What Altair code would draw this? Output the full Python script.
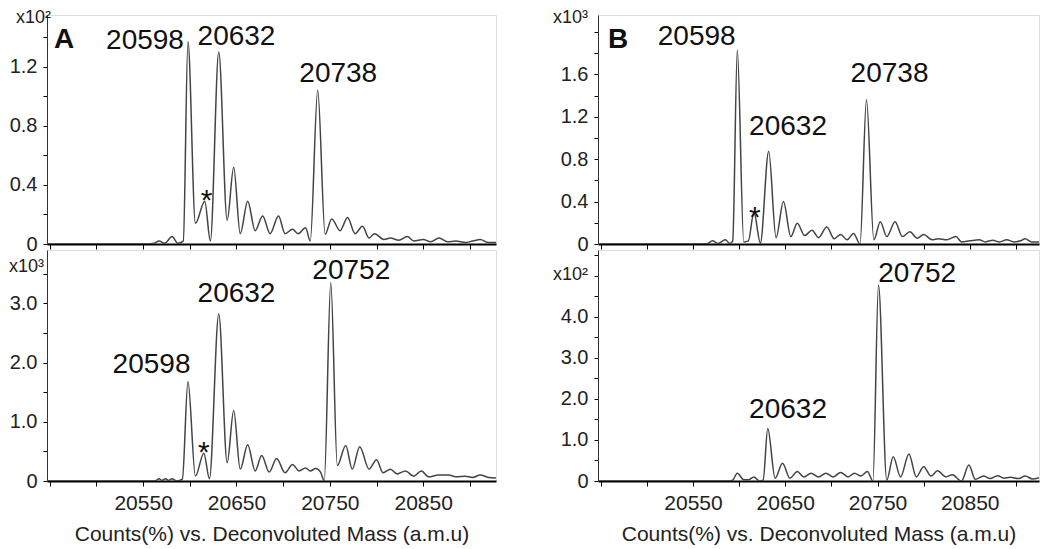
import altair as alt
import pandas as pd

FONT = "Liberation Sans"

# ---------------- data ----------------
mass_a_top = [20447, 20555, 20562, 20567, 20573, 20581, 20587, 20593, 20598, 20606, 20616, 20622,
              20631, 20640, 20647, 20654, 20662, 20670, 20678, 20686, 20695, 20702, 20710, 20716,
              20724, 20729, 20737, 20745, 20752, 20761, 20769, 20777, 20785, 20792, 20798, 20808,
              20815, 20824, 20833, 20840, 20850, 20858, 20867, 20876, 20885, 20895, 20903, 20911,
              20920, 20928]
cnt_a_top = [0, 0, 0.005, 0.02, 0.005, 0.05, 0.005, 0.02, 1.37, 0.14, 0.29, 0.02,
             1.30, 0.16, 0.52, 0.07, 0.29, 0.09, 0.19, 0.07, 0.19, 0.07, 0.10, 0.07,
             0.11, 0.02, 1.04, 0.066, 0.17, 0.09, 0.18, 0.07, 0.12, 0.04, 0.07, 0.03,
             0.04, 0.025, 0.05, 0.02, 0.03, 0.015, 0.04, 0.015, 0.02, 0.01, 0.02, 0.03,
             0.01, 0.01]

mass_a_bot = [20447, 20560, 20564, 20567, 20570, 20574, 20577, 20581, 20586, 20592, 20598, 20606,
              20615, 20621, 20631, 20640, 20647, 20654, 20662, 20670, 20677, 20685, 20693, 20702,
              20710, 20717, 20724, 20729, 20735, 20740, 20744, 20751, 20758, 20767, 20774, 20782,
              20792, 20800, 20807, 20815, 20822, 20831, 20840, 20848, 20856, 20866, 20877, 20886,
              20895, 20903, 20911, 20920, 20928]
cnt_a_bot = [0, 0, 0.01, 0.04, 0.01, 0.04, 0.01, 0.04, 0.0, 0.03, 1.68, 0.085,
             0.47, 0.04, 2.82, 0.31, 1.19, 0.2, 0.61, 0.17, 0.43, 0.15, 0.38, 0.14,
             0.28, 0.17, 0.22, 0.17, 0.21, 0.15, 0.0, 3.35, 0.26, 0.6, 0.2, 0.58,
             0.2, 0.36, 0.14, 0.2, 0.12, 0.17, 0.08, 0.17, 0.07, 0.1, 0.1, 0.07,
             0.08, 0.06, 0.1, 0.06, 0.05]

mass_b_top = [20447, 20560, 20566, 20571, 20577, 20585, 20590, 20593, 20598, 20605, 20610, 20616,
              20623, 20632, 20640, 20648, 20656, 20663, 20671, 20679, 20686, 20695, 20703, 20710,
              20717, 20724, 20731, 20738, 20746, 20753, 20760, 20769, 20777, 20785, 20793, 20800,
              20809, 20816, 20825, 20835, 20841, 20850, 20860, 20867, 20875, 20882, 20890, 20898,
              20905, 20910, 20917, 20925]
cnt_b_top = [0, 0, 0.005, 0.03, 0.005, 0.04, 0.005, 0.03, 1.83, 0.02, 0.03, 0.30,
             0.01, 0.875, 0.06, 0.40, 0.07, 0.195, 0.08, 0.13, 0.06, 0.16, 0.05, 0.09,
             0.04, 0.10, 0.0, 1.36, 0.04, 0.21, 0.07, 0.21, 0.07, 0.115, 0.055, 0.09,
             0.04, 0.05, 0.04, 0.07, 0.02, 0.03, 0.04, 0.02, 0.035, 0.02, 0.04, 0.02,
             0.03, 0.05, 0.02, 0.02]

mass_b_bot = [20447, 20590, 20593, 20598, 20605, 20610, 20616, 20622, 20626, 20631, 20639, 20647,
              20655, 20663, 20670, 20678, 20686, 20694, 20702, 20710, 20718, 20725, 20732, 20739,
              20745, 20751, 20760, 20767, 20775, 20784, 20792, 20800, 20808, 20815, 20824, 20831,
              20841, 20849, 20856, 20865, 20872, 20880, 20887, 20894, 20903, 20910, 20918, 20925]
cnt_b_bot = [0, 0, 0.02, 0.19, 0.03, 0.03, 0.1, 0.0, 0.02, 1.28, 0.07, 0.43,
             0.07, 0.23, 0.1, 0.19, 0.1, 0.19, 0.1, 0.21, 0.1, 0.19, 0.12, 0.23,
             0.0, 4.77, 0.02, 0.59, 0.1, 0.66, 0.1, 0.35, 0.12, 0.25, 0.1, 0.15,
             0.0, 0.39, 0.04, 0.12, 0.06, 0.13, 0.07, 0.09, 0.06, 0.12, 0.05, 0.08]

# peak annotations: text, mass position, height position
lab_a_top_text = ["20598", "20632", "20738"]
lab_a_top_mass = [20552, 20650, 20759]
lab_a_top_cnt = [1.32, 1.345, 1.095]

lab_a_bot_text = ["20598", "20632", "20752"]
lab_a_bot_mass = [20559, 20650, 20773]
lab_a_bot_cnt = [1.83, 3.03, 3.41]

lab_b_top_text = ["20598", "20632", "20738"]
lab_b_top_mass = [20554, 20653, 20763]
lab_b_top_cnt = [1.877, 1.03, 1.53]

lab_b_bot_text = ["20632", "20752"]
lab_b_bot_mass = [20653, 20793]
lab_b_bot_cnt = [1.54, 4.85]

# asterisk positions (mass, height)
star_a_top = [20618, 0.23]
star_a_bot = [20615, 0.32]
star_b_top = [20617, 0.16]

x_ticks = [20450, 20500, 20550, 20600, 20650, 20700, 20750, 20800, 20850, 20900]
y_ticks_a_top = [0, 0.2, 0.4, 0.6, 0.8, 1.0, 1.2, 1.4]
y_ticks_a_bot = [0, 0.5, 1.0, 1.5, 2.0, 2.5, 3.0, 3.5]
y_ticks_b_top = [0, 0.2, 0.4, 0.6, 0.8, 1.0, 1.2, 1.4, 1.6, 1.8, 2.0]
y_ticks_b_bot = [0, 0.5, 1.0, 1.5, 2.0, 2.5, 3.0, 3.5, 4.0, 4.5, 5.0, 5.5]

X_TITLE = "Counts(%) vs. Deconvoluted Mass (a.m.u)"
X_LABEL_EXPR = "datum.value >= 20550 && (datum.value - 20550) % 100 == 0 ? format(datum.value, 'd') : ''"


def ylab_expr(step, maxlab):
    return ("datum.value == 0 ? '0' : ((abs(datum.value / %s - round(datum.value / %s)) < 0.001 "
            "&& datum.value <= %s) ? format(datum.value, '.1f') : '')" % (step, step, maxlab))


def panel(mass, cnt, xdom, ymax, yticks, ystep, ymaxlab, w, h,
          lab_text, lab_mass, lab_cnt, star, letter, letter_x,
          mult, mult_x, mult_y, bottom):
    df = pd.DataFrame({"mass": mass, "counts": cnt})
    if bottom:
        xaxis = alt.Axis(values=x_ticks, labelExpr=X_LABEL_EXPR, labelFont=FONT,
                         labelFontSize=21, labelColor="#222", labelPadding=6,
                         labelOverlap=False, labelFlush=False,
                         tickSize=5, tickColor="black", tickWidth=1,
                         domainColor="black", domainWidth=2, grid=False,
                         title=X_TITLE, titleFont=FONT, titleFontSize=21,
                         titleFontWeight="normal", titleColor="#222", titlePadding=10)
    else:
        xaxis = alt.Axis(values=x_ticks, labels=False, tickSize=5, tickColor="black",
                         tickWidth=1, domainColor="black", domainWidth=2, grid=False,
                         title=None)
    yaxis = alt.Axis(values=yticks, labelExpr=ylab_expr(ystep, ymaxlab), labelFont=FONT,
                     labelFontSize=20, labelColor="#222", labelPadding=6,
                     labelOverlap=False, labelFlush=False,
                     tickSize=4, tickColor="black", domainColor="#333", domainWidth=1,
                     grid=False, title=None)
    xenc = alt.X("mass:Q", scale=alt.Scale(domain=xdom, nice=False, zero=False), axis=xaxis)
    yenc = alt.Y("counts:Q", scale=alt.Scale(domain=[0, ymax], nice=False, zero=False), axis=yaxis)

    line = alt.Chart(df).mark_line(interpolate="monotone", color="#444", strokeWidth=1.5,
                                   clip=True).encode(x=xenc, y=yenc)

    ldf = pd.DataFrame({"mass": lab_mass, "counts": lab_cnt, "label": lab_text})
    labels = alt.Chart(ldf).mark_text(font=FONT, fontSize=28, align="center",
                                      baseline="alphabetic", color="#111").encode(
        x=xenc, y=yenc, text="label:N")

    layers = [line, labels]
    if star is not None:
        sdf = pd.DataFrame({"mass": [star[0]], "counts": [star[1]], "label": ["*"]})
        layers.append(alt.Chart(sdf).mark_text(font=FONT, fontSize=30, align="center",
                                               baseline="alphabetic", color="#111").encode(
            x=xenc, y=yenc, text="label:N"))
    if letter is not None:
        tdf = pd.DataFrame({"label": [letter]})
        layers.append(alt.Chart(tdf).mark_text(font=FONT, fontSize=28, fontWeight="bold",
                                               align="left", baseline="alphabetic",
                                               color="#111").encode(
            x=alt.value(letter_x), y=alt.value(33), text="label:N"))
    mdf = pd.DataFrame({"label": [mult]})
    layers.append(alt.Chart(mdf).mark_text(font=FONT, fontSize=18, align="right",
                                           baseline="alphabetic", color="#222").encode(
        x=alt.value(mult_x), y=alt.value(mult_y), text="label:N"))

    return alt.layer(*layers).properties(width=w, height=h)


XDOM_A = [20447, 20928]
XDOM_B = [20447, 20925]

top_a = panel(mass_a_top, cnt_a_top, XDOM_A, 1.55, y_ticks_a_top, 0.4, 1.2, 449, 229,
              lab_a_top_text, lab_a_top_mass, lab_a_top_cnt, star_a_top, "A", 7,
              "x10\u00b2", 4, 8, False)
bot_a = panel(mass_a_bot, cnt_a_bot, XDOM_A, 3.9, y_ticks_a_bot, 1.0, 3.0, 449, 231,
              lab_a_bot_text, lab_a_bot_mass, lab_a_bot_cnt, star_a_bot, None, 0,
              "x10\u00b3", -3, 22, True)
top_b = panel(mass_b_top, cnt_b_top, XDOM_B, 2.16, y_ticks_b_top, 0.4, 1.6, 441, 229,
              lab_b_top_text, lab_b_top_mass, lab_b_top_cnt, star_b_top, "B", 10,
              "x10\u00b3", -10, 8, False)
bot_b = panel(mass_b_bot, cnt_b_bot, XDOM_B, 5.63, y_ticks_b_bot, 1.0, 4.0, 441, 231,
              lab_b_bot_text, lab_b_bot_mass, lab_b_bot_cnt, None, None, 0,
              "x10\u00b2", -10, 30, True)

col_a = alt.vconcat(top_a, bot_a, spacing=6, bounds="flush")
col_b = alt.vconcat(top_b, bot_b, spacing=6, bounds="flush")

chart = alt.hconcat(col_a, col_b, spacing=55).properties(
    padding={"left": 0, "top": 0, "right": 0, "bottom": 0}
).configure_view(stroke="#777", strokeWidth=1).configure(background="white")

chart.save("out.html", embed_options={"renderer": "svg", "actions": False})
